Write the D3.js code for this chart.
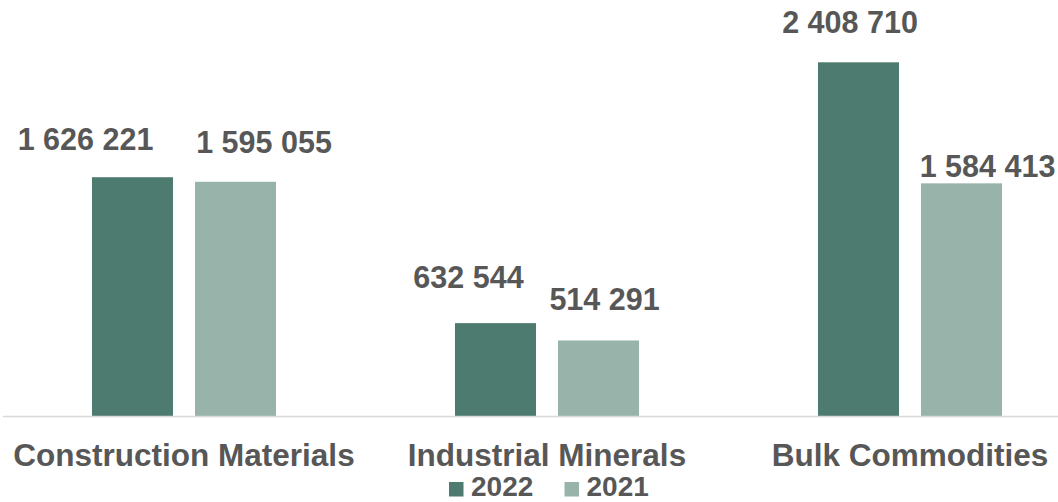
<!DOCTYPE html>
<html>
<head>
<meta charset="utf-8">
<script src="https://cdn.jsdelivr.net/npm/d3@7"></script>
<style>
  html, body { margin: 0; padding: 0; background: #ffffff; }
  svg { display: block; font-family: "Liberation Sans", Arial, sans-serif; }
</style>
</head>
<body>
<svg id="chart" width="1058" height="502"></svg>
<script>
// Tonnes by segment, two years
const categories = ["Construction Materials", "Industrial Minerals", "Bulk Commodities"];
const seriesNames = ["2022", "2021"];
const values2022 = [1626221, 632544, 2408710];
const values2021 = [1595055, 514291, 1584413];

// Hand-placed data label nudges (px), per category, per series
const labelNudge2022 = [[-47, -27], [-27, -35], [-8.5, -29]];
const labelNudge2021 = [[28.5, -29], [6, -30], [26, -6]];

const colors = { "2022": "#4e7b6f", "2021": "#97b3aa" };
const textColor = "#575757";

const svg = d3.select("#chart");
const W = 1058;
const baseline = 416;

const x0 = d3.scaleBand()
  .domain(categories)
  .range([2.5, 1091.5])
  .paddingInner(0.493)
  .paddingOuter(0.2465);

const x1 = d3.scaleBand()
  .domain(seriesNames)
  .range([0, x0.bandwidth()])
  .paddingInner(0.2136)
  .paddingOuter(0);

const y = d3.scaleLinear()
  .domain([0, 2500000])
  .range([baseline, 48.9]);

const rows = categories.map((c, i) => ({
  category: c,
  items: [
    { series: "2022", value: values2022[i], nudge: labelNudge2022[i] },
    { series: "2021", value: values2021[i], nudge: labelNudge2021[i] }
  ]
}));

const fmt = v => d3.format(",")(v).replace(/,/g, " ");

const groups = svg.append("g")
  .selectAll("g")
  .data(rows)
  .join("g")
  .attr("transform", d => `translate(${x0(d.category)},0)`);

groups.selectAll("rect")
  .data(d => d.items)
  .join("rect")
  .attr("x", d => x1(d.series))
  .attr("y", d => y(d.value))
  .attr("width", x1.bandwidth())
  .attr("height", d => y(0) - y(d.value))
  .attr("fill", d => colors[d.series]);

groups.selectAll("text.value")
  .data(d => d.items)
  .join("text")
  .attr("class", "value")
  .attr("x", d => x1(d.series) + x1.bandwidth() / 2 + d.nudge[0])
  .attr("y", d => y(d.value) + d.nudge[1])
  .attr("text-anchor", "middle")
  .attr("font-size", 30.5)
  .attr("font-weight", "bold")
  .attr("fill", textColor)
  .text(d => fmt(d.value));

// Category axis line
svg.append("line")
  .attr("x1", 3).attr("x2", W)
  .attr("y1", baseline + 0.5).attr("y2", baseline + 0.5)
  .attr("stroke", "#d9d9d9")
  .attr("stroke-width", 1.5);

// Category labels
svg.append("g")
  .selectAll("text")
  .data(categories)
  .join("text")
  .attr("x", d => x0(d) + x0.bandwidth() / 2)
  .attr("y", 466)
  .attr("text-anchor", "middle")
  .attr("font-size", 31.5)
  .attr("font-weight", "bold")
  .attr("fill", textColor)
  .text(d => d);

// Legend
const legendItems = [
  { name: "2022", x: 449 },
  { name: "2021", x: 564.5 }
];
const legend = svg.append("g");
legend.selectAll("rect")
  .data(legendItems)
  .join("rect")
  .attr("x", d => d.x)
  .attr("y", 482)
  .attr("width", 14.5)
  .attr("height", 14.5)
  .attr("fill", d => colors[d.name]);
legend.selectAll("text")
  .data(legendItems)
  .join("text")
  .attr("x", d => d.x + 22)
  .attr("y", 496)
  .attr("font-size", 28)
  .attr("font-weight", "bold")
  .attr("fill", textColor)
  .text(d => d.name);
</script>
</body>
</html>
